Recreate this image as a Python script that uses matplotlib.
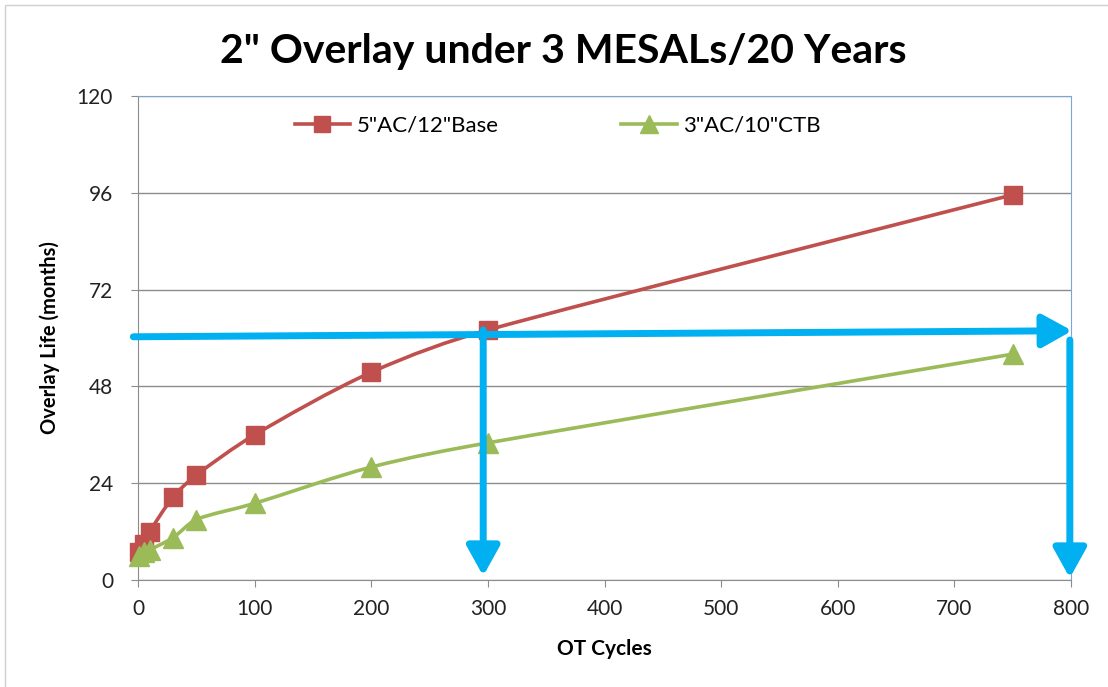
import numpy as np
import matplotlib
matplotlib.use('Agg')
import matplotlib.pyplot as plt
from matplotlib.path import Path
from matplotlib.patches import PathPatch, Rectangle
from matplotlib.lines import Line2D

plt.rcParams['font.family'] = ['Lato', 'DejaVu Sans']

# data
ot_cycles = [1, 5, 10, 30, 50, 100, 200, 300, 750]
life_base = [7, 9, 12, 20.5, 26, 36, 51.5, 62, 95.5]      # 5"AC/12"Base
life_ctb = [6, 7, 7.5, 10.5, 15, 19, 28, 34, 56]          # 3"AC/10"CTB
series_names = ['5"AC/12"Base', '3"AC/10"CTB']

x_ticks = [0, 100, 200, 300, 400, 500, 600, 700, 800]
y_ticks = [0, 24, 48, 72, 96, 120]

# the blue annotation arrows (start, end) in data units
arrows = [((-4, 60.3), (801, 61.8)),
          ((296, 62), (296, 1.0)),
          ((799, 59.5), (799, 0.5))]

red = '#C0504D'
green = '#9BBB59'
blue = '#00B0F0'


def limit(v, dx):
    # keep the handle inside a third of the segment
    if abs(v[0]) > dx / 3.0 and v[0] != 0:
        v = v * (dx / 3.0) / abs(v[0])
    return v


def smooth_path(xs, ys):
    # excel style smoothed line: catmull-rom segments as cubic beziers
    pts = np.column_stack([xs, ys]).astype(float)
    n = len(pts)
    verts = [pts[0]]
    codes = [Path.MOVETO]
    for i in range(n - 1):
        p0 = pts[i - 1] if i > 0 else pts[i]
        p1 = pts[i]
        p2 = pts[i + 1]
        p3 = pts[i + 2] if i + 2 < n else pts[i + 1]
        dx = p2[0] - p1[0]
        c1 = p1 + limit((p2 - p0) / 6.0, dx)
        c2 = p2 - limit((p3 - p1) / 6.0, dx)
        verts += [c1, c2, p2]
        codes += [Path.CURVE4] * 3
    return Path(verts, codes)


fig = plt.figure(figsize=(11.08, 6.87), dpi=100)
ax = fig.add_axes([138/1108., 1 - 580/687., (1071 - 138)/1108., (580 - 96)/687.])

ax.set_xlim(0, 800)
ax.set_ylim(0, 120)

for ys, col, mk, ms in [(life_base, red, 's', 13), (life_ctb, green, '^', 14)]:
    ax.add_patch(PathPatch(smooth_path(ot_cycles, ys), facecolor='none',
                           edgecolor=col, lw=2.6, zorder=3))
    ax.plot(ot_cycles, ys, linestyle='none', marker=mk, markersize=ms,
            color=col, markeredgecolor=col, zorder=4, clip_on=False)

for (x0, y0), (x1, y1) in arrows:
    ax.annotate('', xy=(x1, y1), xytext=(x0, y0), annotation_clip=False,
                arrowprops=dict(arrowstyle='-|>,head_length=0.9,head_width=0.5',
                                mutation_scale=20, lw=5, color=blue,
                                shrinkA=0, shrinkB=0), zorder=6)

ax.set_xticks(x_ticks)
ax.set_yticks(y_ticks)
ax.yaxis.grid(True, color='#8C8C8C', lw=1)
ax.set_axisbelow(True)
ax.tick_params(axis='both', direction='out', length=5, color='#8C8C8C',
               labelsize=15, labelcolor='#222222')
ax.tick_params(axis='y', pad=13)
ax.tick_params(axis='x', pad=9)

for s in ['left', 'bottom']:
    ax.spines[s].set_color('#8C8C8C')
for s in ['top', 'right']:
    ax.spines[s].set_color('#7FA4D6')
    ax.spines[s].set_linewidth(0.8)

ax.set_xlabel('OT Cycles', fontsize=15, fontweight='bold', labelpad=14)
ax.set_ylabel('Overlay Life (months)', fontsize=14.5, fontweight='bold', labelpad=12)

fig.text(0.508, 0.925, '2" Overlay under 3 MESALs/20 Years', ha='center', va='center',
         fontsize=29.5, fontweight='bold')

handles = [Line2D([], [], color=red, lw=2.6, marker='s', markersize=12),
           Line2D([], [], color=green, lw=2.6, marker='^', markersize=13)]
ax.legend(handles, series_names, loc='upper center', bbox_to_anchor=(0.45, 1.0),
          ncol=2, frameon=False, fontsize=16, handlelength=2.5,
          columnspacing=5.5, handletextpad=0.3)

fig.patches.append(Rectangle((5/1108., -0.1), 1.2, 1 - 5/687. + 0.1,
                             transform=fig.transFigure, fill=False,
                             edgecolor='#D0D0D0', lw=1))

fig.savefig('out.png', dpi=100)
